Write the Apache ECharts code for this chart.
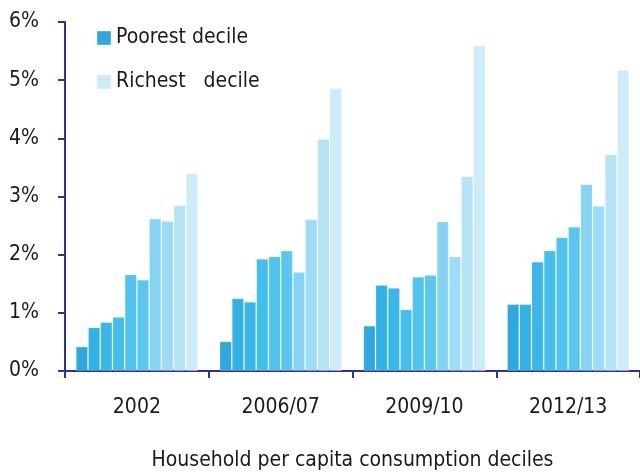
<!DOCTYPE html>
<html>
<head>
<meta charset="utf-8">
<script src="https://cdn.jsdelivr.net/npm/echarts@6/dist/echarts.min.js"></script>
<style>
html,body{margin:0;padding:0;background:#fff;}
#chart{width:640px;height:476px;}
</style>
</head>
<body>
<div id="chart"></div>
<script>
const categories = ['2002', '2006/07', '2009/10', '2012/13'];
const yTicks = [0, 1, 2, 3, 4, 5, 6];
// Share (%) by decile, one array per decile (D1 = poorest ... D10 = richest), across the 4 survey years
const d1  = [0.42, 0.51, 0.78, 1.15];
const d2  = [0.75, 1.25, 1.48, 1.15];
const d3  = [0.84, 1.19, 1.43, 1.88];
const d4  = [0.93, 1.93, 1.06, 2.07];
const d5  = [1.66, 1.97, 1.62, 2.30];
const d6  = [1.57, 2.07, 1.65, 2.48];
const d7  = [2.62, 1.70, 2.57, 3.21];
const d8  = [2.58, 2.61, 1.97, 2.84];
const d9  = [2.85, 3.99, 3.35, 3.72];
const d10 = [3.40, 4.86, 5.59, 5.18];
const deciles = [d1, d2, d3, d4, d5, d6, d7, d8, d9, d10];
const decileNames = ['Poorest decile', 'D2', 'D3', 'D4', 'D5', 'D6', 'D7', 'D8', 'D9', 'Richest   decile'];
const colors = ['#2FA8DE', '#33B1E4', '#3BB6E8', '#44BEEC', '#50C3EE', '#5BC6F0', '#85D4F4', '#9CDCF6', '#B5E3F7', '#CEEBF8'];

const FONT = "'DejaVu Sans Condensed', 'Liberation Sans Narrow', sans-serif";
const AXIS = '#2E3192';
const TXT = '#1a1a1a';

const chart = echarts.init(document.getElementById('chart'), null, {renderer: 'canvas'});
chart.setOption({
  animation: false,
  backgroundColor: '#fff',
  textStyle: {fontFamily: FONT},
  grid: {left: 65, top: 22, bottom: 100, width: 582, containLabel: false},
  legend: {
    data: ['Poorest decile', 'Richest   decile'],
    orient: 'vertical',
    left: 91, top: 20,
    icon: 'rect',
    itemWidth: 14, itemHeight: 14,
    itemGap: 18,
    textStyle: {fontFamily: FONT, fontSize: 21, color: TXT, lineHeight: 26},
    selectedMode: false
  },
  xAxis: {
    type: 'category',
    data: categories,
    boundaryGap: true,
    axisLine: {lineStyle: {color: AXIS, width: 2}},
    axisTick: {show: true, length: 7, lineStyle: {color: AXIS, width: 2}},
    axisLabel: {fontFamily: FONT, fontSize: 21, color: TXT, margin: 26},
    name: 'Household per capita consumption deciles',
    nameLocation: 'middle',
    nameGap: 79,
    nameTextStyle: {fontFamily: FONT, fontSize: 21, color: TXT}
  },
  yAxis: {
    type: 'value',
    min: yTicks[0], max: yTicks[yTicks.length - 1], interval: 1,
    axisLine: {show: true, lineStyle: {color: AXIS, width: 2}},
    axisTick: {show: true, length: 7, lineStyle: {color: AXIS, width: 2}},
    splitLine: {show: false},
    axisLabel: {fontFamily: FONT, fontSize: 21, color: TXT, margin: 26, formatter: '{value}%'}
  },
  series: deciles.map((arr, i) => ({
    name: decileNames[i],
    type: 'bar',
    data: arr,
    barGap: '0%',
    barCategoryGap: '15%',
    itemStyle: {color: colors[i], borderColor: 'rgba(255,255,255,0.18)', borderWidth: 1}
  }))
});
</script>
</body>
</html>
